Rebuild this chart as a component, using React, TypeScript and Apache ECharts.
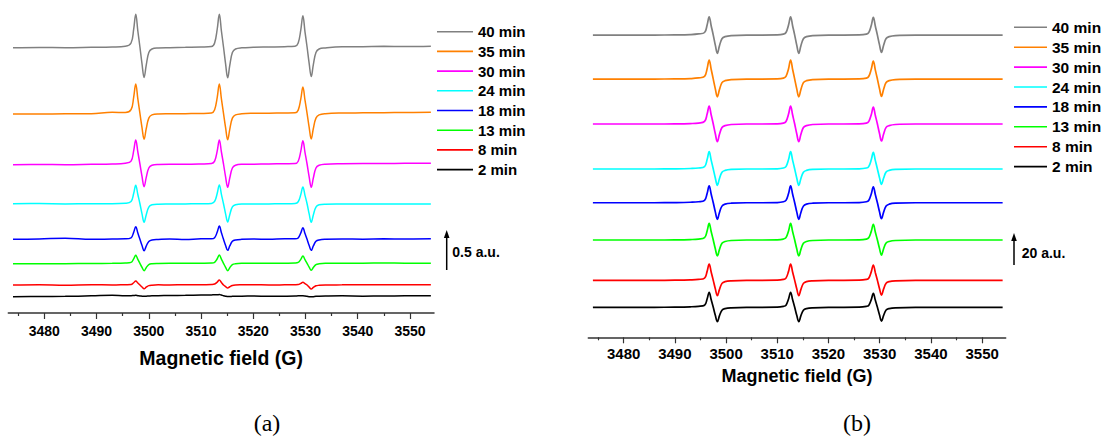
import React, { useEffect, useRef } from "react";
import * as echarts from "echarts";

// ---------- data ----------
const labels = ["40 min", "35 min", "30 min", "24 min", "18 min", "13 min", "8 min", "2 min"];
const colors = ["#808080", "#FF8000", "#FF00FF", "#00FFFF", "#0000FF", "#00FF00", "#FF0000", "#000000"];

const majorTicks = [3480, 3490, 3500, 3510, 3520, 3530, 3540, 3550];
const minorTicks = [3475, 3485, 3495, 3505, 3515, 3525, 3535, 3545];

// Panel (a) magnetic field sample points (G)
const fieldA = [
  3474, 3479, 3484, 3489, 3493, 3495.5,
  3496.6, 3497.1, 3497.5, 3497.9, 3498.3, 3498.7, 3499.1, 3499.5, 3500.0, 3500.6, 3501.8,
  3504, 3507, 3510, 3512,
  3512.6, 3513.1, 3513.5, 3513.9, 3514.3, 3514.7, 3515.1, 3515.5, 3516.0, 3516.6, 3517.8,
  3520, 3523, 3526, 3528,
  3528.6, 3529.1, 3529.5, 3529.9, 3530.3, 3530.7, 3531.1, 3531.5, 3532.0, 3532.6, 3533.8,
  3537, 3541, 3545, 3549, 3554,
];
// Panel (a) signals (a.u., relative to each trace's baseline)
const a40 = [-0.01, -0.006, -0.008, -0.004, 0, 0.008, 0.05, 0.22, 0.41, 0.2, 0, -0.21, -0.38, -0.23, -0.07, -0.025, -0.012, -0.008, -0.004, 0, 0.006, 0.05, 0.225, 0.41, 0.2, 0, -0.21, -0.385, -0.23, -0.07, -0.025, -0.01, -0.004, 0, 0.004, 0.01, 0.05, 0.215, 0.39, 0.19, 0, -0.205, -0.37, -0.22, -0.07, -0.025, -0.012, 0.002, 0.004, 0.008, 0.006, 0.01];
const a35 = [-0.01, -0.008, -0.006, -0.004, 0.012, 0.01, 0.045, 0.2, 0.366, 0.18, 0, -0.18, -0.325, -0.195, -0.06, -0.02, -0.008, -0.006, -0.004, -0.002, 0.004, 0.045, 0.2, 0.366, 0.18, 0, -0.18, -0.33, -0.2, -0.06, -0.02, -0.006, 0, 0.002, 0.004, 0.006, 0.04, 0.18, 0.33, 0.165, 0, -0.175, -0.32, -0.19, -0.06, -0.02, -0.004, 0.004, 0.006, 0.008, 0.01, 0.012];
const a30 = [-0.008, -0.006, -0.008, -0.004, 0, 0.01, 0.036, 0.165, 0.3, 0.15, 0, -0.156, -0.284, -0.17, -0.05, -0.016, -0.006, -0.004, -0.004, 0, 0.006, 0.036, 0.165, 0.3, 0.15, 0, -0.16, -0.29, -0.175, -0.05, -0.016, -0.004, -0.002, 0, 0.004, 0.006, 0.035, 0.16, 0.29, 0.145, 0, -0.16, -0.29, -0.175, -0.05, -0.016, -0.002, 0.004, 0.006, 0.006, 0.008, 0.008];
const a24 = [0, 0.002, -0.002, 0, 0, 0.006, 0.028, 0.127, 0.23, 0.115, 0, -0.128, -0.233, -0.14, -0.042, -0.014, -0.006, -0.004, -0.002, 0, 0.004, 0.028, 0.13, 0.235, 0.117, 0, -0.126, -0.229, -0.137, -0.04, -0.014, -0.004, -0.004, -0.002, 0, 0.004, 0.025, 0.115, 0.21, 0.105, 0, -0.128, -0.233, -0.14, -0.042, -0.014, -0.006, -0.004, -0.002, -0.004, -0.002, -0.004];
const a18 = [0, 0.004, 0.014, 0, 0.004, 0.006, 0.019, 0.087, 0.158, 0.079, 0, -0.078, -0.142, -0.085, -0.026, -0.008, -0.002, 0.004, -0.002, 0.006, 0.006, 0.02, 0.091, 0.166, 0.083, 0, -0.076, -0.138, -0.083, -0.025, -0.008, 0, 0.004, 0, 0.006, 0.006, 0.017, 0.08, 0.145, 0.072, 0, -0.076, -0.138, -0.083, -0.025, -0.008, 0, 0.004, 0.002, 0.006, 0.004, 0.006];
const a13 = [-0.006, -0.004, -0.004, -0.002, 0, 0.004, 0.012, 0.055, 0.1, 0.05, 0, -0.05, -0.092, -0.055, -0.017, -0.006, -0.002, 0, 0, 0.002, 0.004, 0.013, 0.057, 0.104, 0.052, 0, -0.05, -0.092, -0.055, -0.017, -0.006, 0, 0.002, 0, 0.002, 0.004, 0.011, 0.05, 0.091, 0.045, 0, -0.048, -0.088, -0.053, -0.016, -0.006, 0, 0.002, 0.002, 0.004, 0.002, 0.002];
const a8 = [0, 0.004, -0.002, 0.004, 0, 0.004, 0.006, 0.028, 0.05, 0.025, 0, -0.025, -0.046, -0.028, -0.008, -0.002, 0.002, 0, 0.004, 0.002, 0.006, 0.012, 0.036, 0.0625, 0.032, 0, -0.02, -0.0375, -0.022, -0.006, 0, 0.002, 0.004, 0, 0.002, 0.004, 0.006, 0.02, 0.034, 0.017, 0, -0.027, -0.05, -0.03, -0.01, -0.004, 0, 0.002, 0.004, 0.002, 0.004, 0.004];
const a2 = [-0.008, -0.006, -0.004, 0.002, 0.01, 0.004, 0.004, 0.006, 0.008, 0.004, 0, -0.002, -0.004, -0.002, 0, 0.002, 0.004, 0.006, 0.008, 0.012, 0.014, 0.016, 0.016, 0.018, 0.012, 0.004, -0.002, -0.006, -0.006, -0.004, -0.002, -0.002, 0, -0.004, -0.002, 0, 0.002, 0.002, 0.002, 0, -0.004, -0.008, -0.01, -0.008, -0.004, -0.002, 0, 0.002, -0.002, 0, 0.002, 0.004];
// Panel (a) vertical offsets of the traces (a.u.)
const offsetsA = [3.325, 2.496, 1.8625, 1.366, 0.921, 0.621, 0.35, 0.2125];

// Panel (b) magnetic field sample points (G)
const fieldB = [
  3474, 3480, 3486, 3490, 3493, 3494.6,
  3495.8, 3496.3, 3496.7, 3497.1, 3497.5, 3497.9, 3498.3, 3498.7, 3499.2, 3499.8, 3501.0,
  3504, 3507, 3510, 3511.2,
  3511.7, 3512.2, 3512.6, 3513.0, 3513.4, 3513.8, 3514.2, 3514.6, 3515.1, 3515.7, 3516.9,
  3520, 3523, 3526, 3527.4,
  3527.85, 3528.35, 3528.75, 3529.15, 3529.55, 3529.95, 3530.35, 3530.75, 3531.25, 3531.85, 3533.05,
  3537, 3541, 3545, 3549, 3554,
];
// Panel (b) signals (a.u., relative to each trace's baseline)
const b40 = [0, 0, 0, 0.1, 0.3, 0.7, 1.6, 6.3, 11.4, 5.7, 0, -6.3, -11.4, -6.8, -2.3, -1.0, -0.3, 0, 0, 0.1, 0.6, 1.6, 6.3, 11.4, 5.7, 0, -6.3, -11.4, -6.8, -2.3, -1.0, -0.3, 0, 0, 0.1, 0.6, 1.5, 6.0, 11.0, 5.5, 0, -6.0, -10.8, -6.5, -2.2, -1.0, -0.3, 0, 0, 0, 0, 0];
const b35 = [0, 0, 0, 0.1, 0.3, 0.7, 1.7, 6.5, 11.9, 6.0, 0, -6.1, -11.1, -6.7, -2.2, -1.0, -0.3, 0, 0, 0.1, 0.6, 1.7, 6.5, 11.9, 6.0, 0, -6.1, -11.1, -6.7, -2.2, -1.0, -0.3, 0, 0, 0.1, 0.6, 1.6, 6.2, 11.25, 5.6, 0, -5.9, -10.8, -6.5, -2.2, -1.0, -0.3, 0, 0, 0, 0, 0];
const b30 = [0, 0, 0, 0.1, 0.3, 0.6, 1.6, 6.2, 11.25, 5.6, 0, -6.1, -11.06, -6.6, -2.2, -1.0, -0.3, 0, 0, 0.1, 0.6, 1.6, 6.2, 11.25, 5.6, 0, -6.1, -11.06, -6.6, -2.2, -1.0, -0.3, 0, 0, 0.1, 0.6, 1.5, 5.8, 10.6, 5.3, 0, -5.8, -10.6, -6.4, -2.1, -1.0, -0.3, 0, 0, 0, 0, 0];
const b24 = [0, 0, 0, 0.1, 0.3, 0.6, 1.5, 5.9, 10.8, 5.4, 0, -5.6, -10.2, -6.1, -2.0, -0.9, -0.3, 0, 0, 0.1, 0.6, 1.5, 5.9, 10.8, 5.4, 0, -5.6, -10.2, -6.1, -2.0, -0.9, -0.3, 0, 0, 0.1, 0.6, 1.5, 5.7, 10.4, 5.2, 0, -5.3, -9.6, -5.8, -1.9, -0.9, -0.3, 0, 0, 0, 0, 0];
const b18 = [0, 0, 0, 0.1, 0.3, 0.6, 1.5, 5.8, 10.6, 5.3, 0, -5.7, -10.4, -6.2, -2.1, -0.9, -0.3, 0, 0, 0.1, 0.6, 1.5, 5.8, 10.6, 5.3, 0, -5.7, -10.4, -6.2, -2.1, -0.9, -0.3, 0, 0, 0.1, 0.6, 1.4, 5.5, 10.0, 5.0, 0, -5.5, -10.0, -6.0, -2.0, -0.9, -0.3, 0, 0, 0, 0, 0];
const b13 = [0, 0, 0, 0.1, 0.3, 0.6, 1.5, 5.7, 10.4, 5.2, 0, -5.5, -10.0, -6.0, -2.0, -0.9, -0.3, 0, 0, 0.1, 0.6, 1.5, 5.7, 10.4, 5.2, 0, -5.5, -10.0, -6.0, -2.0, -0.9, -0.3, 0, 0, 0.1, 0.6, 1.4, 5.4, 9.8, 4.9, 0, -5.2, -9.4, -5.6, -1.9, -0.9, -0.3, 0, 0, 0, 0, 0];
const b8 = [0, 0, 0, 0.1, 0.3, 0.6, 1.4, 5.6, 10.2, 5.1, 0, -5.3, -9.6, -5.8, -1.9, -0.8, -0.3, 0, 0, 0.1, 0.6, 1.4, 5.6, 10.2, 5.1, 0, -5.3, -9.6, -5.8, -1.9, -0.8, -0.3, 0, 0, 0.1, 0.6, 1.3, 5.3, 9.6, 4.8, 0, -5.1, -9.2, -5.5, -1.8, -0.8, -0.3, 0, 0, 0, 0, 0];
const b2 = [0, 0, 0, 0.1, 0.3, 0.6, 1.3, 5.2, 9.4, 4.7, 0, -5.0, -9.0, -5.4, -1.8, -0.8, -0.3, 0, 0, 0.1, 0.6, 1.3, 5.2, 9.4, 4.7, 0, -5.0, -9.0, -5.4, -1.8, -0.8, -0.3, 0, 0, 0.1, 0.6, 1.2, 4.8, 8.75, 4.4, 0, -4.7, -8.6, -5.2, -1.7, -0.8, -0.3, 0, 0, 0, 0, 0];
// Panel (b) vertical offsets of the traces (a.u.)
const offsetsB = [188.9, 161.4, 133.3, 105.2, 84.1, 60.8, 35.6, 18.75];

const scaleBarA = 0.5; // a.u.
const scaleBarB = 20; // a.u.

// ---------- layout ----------
const FONT = '"Liberation Sans", Arial, Helvetica, sans-serif';
const SERIF = '"Liberation Serif", "Times New Roman", serif';
const X_MIN = 3473.1;
const X_MAX = 3554.6;
const panelA = { left: 8.3, top: 1, width: 425.7, height: 312, yMax: 3.9 };
const panelB = { left: 588.3, top: 1.3, width: 417.4, height: 336, yMax: 210 };

function xAxesFor(gridIndex: number, labelSize: number, margin: number, nameSize: number, nameGap: number) {
  return [
    {
      type: "value",
      gridIndex,
      min: X_MIN,
      max: X_MAX,
      position: "bottom",
      name: "Magnetic field (G)",
      nameLocation: "middle",
      nameGap,
      nameTextStyle: { fontFamily: FONT, fontWeight: "bold", fontSize: nameSize, color: "#000" },
      axisLine: { show: true, onZero: false, lineStyle: { color: "#333", width: 1.5 } },
      axisTick: { show: true, inside: false, length: 6, customValues: majorTicks, lineStyle: { color: "#333", width: 1.2 } },
      axisLabel: {
        show: true,
        customValues: majorTicks,
        margin,
        fontFamily: FONT,
        fontWeight: "bold",
        fontSize: labelSize,
        color: "#000",
        formatter: (v: number) => "{t|" + String(Math.round(v)) + "}",
        rich: {
          t: { fontFamily: FONT, fontWeight: "bold", fontSize: labelSize, color: "#000" },
        },
      },
      splitLine: { show: false },
    },
    {
      type: "value",
      gridIndex,
      min: X_MIN,
      max: X_MAX,
      position: "bottom",
      axisLine: { show: false, onZero: false },
      axisTick: { show: true, inside: false, length: 3, customValues: minorTicks, lineStyle: { color: "#333", width: 1.2 } },
      axisLabel: { show: false },
      splitLine: { show: false },
    },
  ];
}

export default function App() {
  const ref = useRef<HTMLDivElement>(null);

  useEffect(() => {
    if (!ref.current) return;
    const chart = echarts.init(ref.current, null, { renderer: "svg" });
    const seriesA = [a40, a35, a30, a24, a18, a13, a8, a2];
    const seriesB = [b40, b35, b30, b24, b18, b13, b8, b2];

    const series: any[] = [];
    labels.forEach((name, i) => {
      series.push({
        type: "line",
        name,
        xAxisIndex: 0,
        yAxisIndex: 0,
        data: fieldA.map((x, k) => [x, seriesA[i][k] + offsetsA[i]]),
        symbol: "none",
        smooth: 0.4,
        lineStyle: { color: colors[i], width: 1.5 },
        itemStyle: { color: colors[i] },
        z: 2 + i,
      });
    });
    labels.forEach((name, i) => {
      series.push({
        type: "line",
        name,
        xAxisIndex: 2,
        yAxisIndex: 1,
        data: fieldB.map((x, k) => [x, seriesB[i][k] + offsetsB[i]]),
        symbol: "none",
        smooth: 0.4,
        lineStyle: { color: colors[i], width: 1.7 },
        itemStyle: { color: colors[i] },
        z: 2 + i,
      });
    });

    const pxA = panelA.height / panelA.yMax;
    const pxB = panelB.height / panelB.yMax;
    const barA = { x: 446.7, bottom: 270 };
    const barB = { x: 1014, bottom: 265 };
    const barATop = barA.bottom - scaleBarA * pxA;
    const barBTop = barB.bottom - scaleBarB * pxB;

    const arrow = (x: number, top: number, bottom: number) => [
      { type: "line", shape: { x1: x, y1: bottom, x2: x, y2: top + 6 }, style: { stroke: "#000", lineWidth: 1.5 } },
      { type: "polygon", shape: { points: [[x - 2.8, top + 8], [x, top], [x + 2.8, top + 8]] }, style: { fill: "#000" } },
    ];

    const legendCommon = {
      data: labels,
      orient: "vertical",
      icon: "rect",
      itemHeight: 1.6,
      padding: 0,
      selectedMode: false,
    };

    const option: any = {
      animation: false,
      backgroundColor: "#fff",
      grid: [
        { left: panelA.left, top: panelA.top, width: panelA.width, height: panelA.height, containLabel: false },
        { left: panelB.left, top: panelB.top, width: panelB.width, height: panelB.height, containLabel: false },
      ],
      xAxis: [...xAxesFor(0, 14, 11, 19.5, 35), ...xAxesFor(1, 15, 9, 18, 30)],
      yAxis: [
        { type: "value", gridIndex: 0, min: 0, max: panelA.yMax, show: false },
        { type: "value", gridIndex: 1, min: 0, max: panelB.yMax, show: false },
      ],
      legend: [
        {
          ...legendCommon,
          left: 437,
          top: 23.7,
          itemWidth: 36,
          itemGap: 3.7,
          textStyle: { fontFamily: FONT, fontWeight: "bold", fontSize: 15, color: "#000", lineHeight: 16 },
        },
        {
          ...legendCommon,
          left: 1014,
          top: 19.3,
          itemWidth: 33,
          itemGap: 3.9,
          textStyle: { fontFamily: FONT, fontWeight: "bold", fontSize: 15.5, color: "#000", lineHeight: 16 },
        },
      ],
      graphic: [
        ...arrow(barA.x, barATop, barA.bottom),
        {
          type: "text",
          x: 452.3,
          y: 251.7,
          style: { text: "0.5 a.u.", fill: "#000", fontFamily: FONT, fontWeight: "bold", fontSize: 14, align: "left", verticalAlign: "middle" },
        },
        ...arrow(barB.x, barBTop, barB.bottom),
        {
          type: "text",
          x: 1021.7,
          y: 253.3,
          style: { text: "20 a.u.", fill: "#000", fontFamily: FONT, fontWeight: "bold", fontSize: 14, align: "left", verticalAlign: "middle" },
        },
        {
          type: "text",
          x: 267,
          y: 423,
          style: { text: "(a)", fill: "#000", fontFamily: SERIF, fontSize: 24, align: "center", verticalAlign: "middle" },
        },
        {
          type: "text",
          x: 857,
          y: 423,
          style: { text: "(b)", fill: "#000", fontFamily: SERIF, fontSize: 24, align: "center", verticalAlign: "middle" },
        },
      ],
      series,
    };

    chart.setOption(option);
    return () => chart.dispose();
  }, []);

  return (
    <div
      ref={ref}
      style={{ position: "absolute", left: 0, top: 0, width: 1105, height: 437, background: "#fff" }}
    />
  );
}
